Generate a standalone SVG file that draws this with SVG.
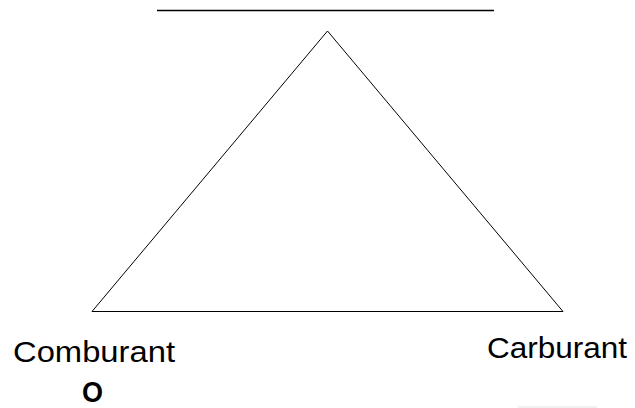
<svg xmlns="http://www.w3.org/2000/svg" width="635" height="408" viewBox="0 0 635 408">
<style>
.lbl{font-family:"Liberation Sans",Arial,sans-serif;font-size:29px;fill:#000}
.ln{stroke:#000;fill:none}
</style>
<rect width="635" height="408" fill="#fff"/>
<g id="connectors">
<line class="ln" x1="157" y1="10.5" x2="494" y2="10.5" stroke-width="1.5"/>
<polygon class="ln" points="327.5,31 92,311.5 563,311.5" stroke-width="1"/>
<line x1="518" y1="407" x2="597" y2="407" stroke="#e3e3e3" stroke-width="1"/>
</g>
<g id="comburant"><text class="lbl" x="13" y="362" textLength="162" lengthAdjust="spacingAndGlyphs">Comburant</text></g>
<g id="carburant"><text class="lbl" x="487" y="358" textLength="140" lengthAdjust="spacingAndGlyphs">Carburant</text></g>
<g id="o"><text class="lbl" x="82" y="402" font-size="30" font-weight="bold" textLength="21" lengthAdjust="spacingAndGlyphs">O</text></g>
</svg>
